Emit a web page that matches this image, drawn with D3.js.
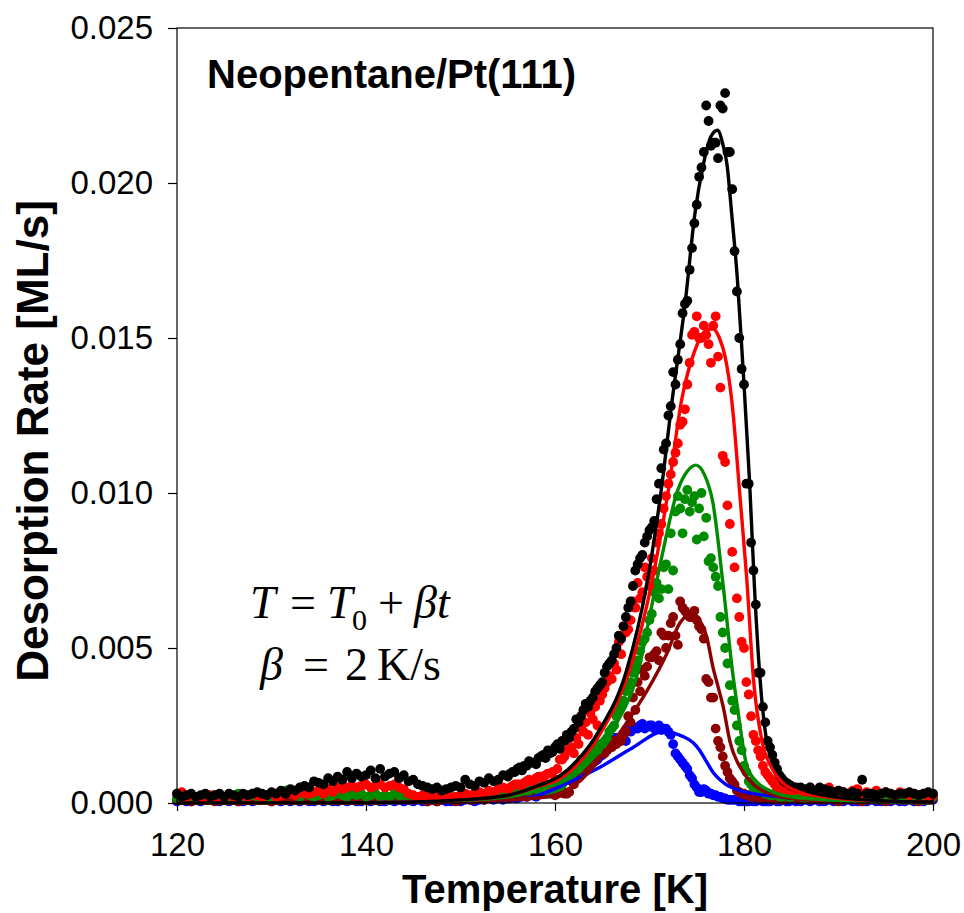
<!DOCTYPE html>
<html>
<head>
<meta charset="utf-8">
<script src="https://cdn.jsdelivr.net/npm/d3@7"></script>
<style>
  body { margin: 0; background: #fff; }
  svg { display: block; }
</style>
</head>
<body>
<script>
// temperature grid of the measured points [K]
const tempK = d3.range(0, 161).map(i => 120 + i * 0.5);
// in-between readings through the peak region [K]
const fineTempK = d3.range(0, 60).map(i => 155.25 + i * 0.5);

// measured desorption rates, in 1e-3 ML/s, one value per temperature step
const blackPts = [
  0.3,0.2,0.25,0.3,0.2,0.25,0.3,0.2,0.25,0.3,0.2,0.3,0.25,0.2,0.3,0.25,0.3,0.35,0.3,0.25,0.35,0.3,0.4,0.3,
  0.45,0.4,0.5,0.55,0.5,0.7,0.65,0.6,0.8,0.7,0.85,0.75,1.0,0.8,0.95,0.85,0.9,1.05,0.8,1.1,0.85,0.95,1.0,0.8,0.9,0.7,0.75,0.6,0.55,0.5,
  0.45,0.5,0.4,0.45,0.5,0.55,0.5,0.75,0.6,0.55,0.7,0.65,0.8,0.7,0.75,0.9,0.85,1.0,
  1.1,1.05,1.2,1.3,1.25,1.5,1.45,1.6,1.8,1.75,2.0,2.1,2.4,2.6,3.0,3.1,3.4,3.7,3.9,4.4,4.6,5.0,
  5.3,6.0,6.5,7.5,7.9,8.4,8.8,9.1,10.3,11.4,12.5,13.9,14.3,15.8,16.2,17.9,19.3,20.5,22.5,21.2,21.3,22.5,22.9,21.0,17.8,15.0,13.5,10.3,
  7.5,4.2,3.1,2.0,1.55,1.1,0.8,0.65,0.55,0.5,
  0.5,0.45,0.5,0.4,0.5,0.45,0.4,0.35,0.4,0.35,0.3,0.35,0.3,0.75,0.3,0.3,0.25,0.3,0.35,0.3,0.25,0.3,0.3,0.35,0.3,0.25,0.3,0.35,0.3
];
const redPts = [
  0.3,0.35,0.2,0.25,0.2,0.15,0.2,0.25,0.2,0.15,0.2,0.25,0.2,0.2,0.25,0.2,0.3,0.25,0.2,0.25,0.3,0.2,0.25,0.3,
  0.3,0.25,0.35,0.3,0.3,0.35,0.4,0.3,0.45,0.35,0.5,0.45,0.5,0.55,0.5,0.55,0.6,0.5,0.55,0.6,0.5,0.55,0.6,0.5,0.45,0.3,0.25,0.2,0.25,0.2,
  0.2,0.25,0.2,0.25,0.2,0.2,0.25,0.3,0.25,0.3,0.35,0.3,0.4,0.35,0.45,0.5,0.45,0.55,
  0.6,0.55,0.7,0.7,0.8,0.85,0.9,0.6,0.75,1.4,1.5,1.7,1.6,1.9,2.3,2.2,2.7,2.5,3.5,3.9,4.0,4.3,
  4.8,5.5,5.9,6.3,6.6,7.6,7.0,7.5,8.7,9.5,10.3,11.0,11.6,12.3,13.5,15.1,15.7,15.0,15.1,14.2,15.7,13.4,11.0,9.0,7.6,6.0,5.0,3.5,
  2.2,1.7,1.2,0.9,0.7,0.5,0.45,0.4,0.35,0.45,
  0.4,0.35,0.5,0.3,0.4,0.35,0.5,0.3,0.4,0.35,0.3,0.4,0.45,0.3,0.35,0.3,0.4,0.3,0.35,0.3,0.25,0.35,0.3,0.25,0.3,0.25,0.3,0.2,0.25
];
const greenPts = [
  0.15,0.1,0.2,0.15,0.1,0.2,0.15,0.2,0.25,0.15,0.2,0.15,0.2,0.3,0.15,0.2,0.25,0.2,0.15,0.2,0.2,0.25,0.35,0.4,
  0.3,0.25,0.2,0.3,0.25,0.2,0.25,0.3,0.2,0.25,0.3,0.25,0.2,0.3,0.25,0.3,0.2,0.25,0.3,0.2,0.25,0.2,0.3,0.25,0.2,0.15,0.2,0.15,0.2,0.15,
  0.15,0.2,0.15,0.2,0.15,0.2,0.15,0.2,0.2,0.25,0.2,0.25,0.3,0.25,0.3,0.35,0.3,0.4,
  0.35,0.45,0.4,0.5,0.45,0.55,0.35,0.5,0.45,0.5,0.7,0.8,1.0,1.1,1.3,1.5,1.6,1.7,1.9,2.1,2.4,2.8,
  3.2,3.6,3.9,4.4,4.9,5.3,5.9,6.8,6.6,7.6,6.9,7.5,9.9,8.7,10.1,9.7,8.5,10.0,9.2,7.9,7.3,6.0,5.0,3.8,3.0,2.0,1.2,0.7,
  0.5,0.4,0.35,0.3,0.25,0.3,0.2,0.25,0.2,0.25,
  0.2,0.15,0.2,0.25,0.2,0.15,0.2,0.15,0.2,0.25,0.2,0.15,0.2,0.15,0.2,0.25,0.2,0.15,0.2,0.2,0.15,0.2,0.25,0.2,0.15,0.2,0.2,0.25,0.2
];
const darkRedPts = [
  0.1,0.15,0.1,0.05,0.1,0.15,0.1,0.1,0.05,0.1,0.15,0.1,0.1,0.05,0.1,0.15,0.1,0.1,0.15,0.1,0.05,0.1,0.15,0.1,
  0.1,0.15,0.1,0.15,0.2,0.15,0.1,0.15,0.2,0.15,0.1,0.15,0.2,0.15,0.1,0.15,0.1,0.15,0.2,0.1,0.15,0.1,0.15,0.1,0.15,0.1,0.1,0.15,0.1,0.05,
  0.1,0.05,0.1,0.15,0.1,0.05,0.1,0.15,0.1,0.1,0.15,0.1,0.15,0.2,0.15,0.2,0.15,0.2,
  0.2,0.25,0.2,0.3,0.25,0.3,0.35,0.3,0.25,0.35,0.3,0.35,0.6,0.8,1.0,1.2,1.3,1.5,1.6,1.7,1.8,1.9,
  2.0,2.3,2.6,3.0,3.6,4.1,4.7,4.8,4.6,5.4,5.4,6.0,5.1,6.3,6.1,6.0,5.9,5.6,4.0,3.4,2.4,1.8,1.2,0.8,0.6,0.35,0.3,0.25,
  0.2,0.25,0.2,0.15,0.2,0.15,0.1,0.15,0.2,0.15,
  0.1,0.15,0.1,0.15,0.1,0.1,0.15,0.1,0.05,0.1,0.15,0.1,0.1,0.05,0.1,0.15,0.1,0.1,0.05,0.1,0.15,0.1,0.1,0.15,0.1,0.05,0.1,0.1,0.15
];
const bluePts = [
  0.05,0.1,0.05,0.05,0.1,0.05,0.1,0.15,0.1,0.05,0.1,0.05,0.1,0.05,0.05,0.1,0.05,0.1,0.15,0.1,0.05,0.1,0.05,0.1,
  0.05,0.1,0.05,0.1,0.05,0.05,0.1,0.05,0.1,0.05,0.05,0.1,0.05,0.1,0.05,0.05,0.1,0.05,0.1,0.05,0.05,0.1,0.05,0.1,0.05,0.1,0.05,0.1,0.05,0.05,
  0.1,0.05,0.1,0.05,0.05,0.1,0.05,0.1,0.1,0.05,0.1,0.1,0.15,0.1,0.15,0.1,0.15,0.2,
  0.15,0.2,0.2,0.25,0.2,0.3,0.3,0.45,0.5,0.55,0.7,0.75,0.85,1.0,1.05,1.2,1.3,1.4,1.55,1.7,1.9,2.1,
  2.05,2.0,2.3,2.4,2.5,2.4,2.5,2.4,2.5,2.4,2.3,1.9,1.5,1.3,1.1,0.8,0.5,0.35,0.4,0.3,0.25,0.2,0.15,0.1,0.1,0.05,0.1,0.05,
  0.05,0.1,0.05,0.05,0.1,0.05,0.1,0.05,0.1,0.05,
  0.05,0.1,0.05,0.1,0.05,0.05,0.1,0.05,0.1,0.05,0.1,0.05,0.05,0.1,0.05,0.1,0.05,0.05,0.1,0.05,0.1,0.05,0.05,0.1,0.05,0.1,0.05,0.1,0.1
];

// in-between readings, 1e-3 ML/s, at fineTempK
const blackFine = [
  0.95,1.0,1.15,1.2,1.35,1.3,1.45,1.55,1.7,1.65,
  1.9,2.0,2.2,2.3,2.7,2.8,3.2,3.3,3.6,3.8,
  4.2,4.5,4.8,5.4,5.7,6.3,7.0,7.7,8.0,8.6,
  8.9,9.8,10.8,11.6,12.8,13.5,14.8,16.1,17.2,18.7,
  20.2,21.0,22.0,21.3,20.8,22.4,21.0,19.8,16.5,14.0,
  10.3,8.4,6.4,4.2,2.6,1.8,1.3,0.9,0.7,0.6
];
const redFine = [
  0.5,0.6,0.6,0.65,0.75,0.7,0.85,0.8,0.95,1.0,
  1.1,1.4,1.7,1.8,2.1,2.4,2.6,2.9,3.1,3.3,
  3.7,4.1,4.5,5.2,5.7,5.6,6.5,7.1,6.8,7.3,
  7.9,8.4,9.0,9.9,10.6,11.3,12.2,12.7,14.2,15.2,
  15.0,15.4,14.8,15.4,14.4,11.2,9.6,8.1,6.6,5.2,
  3.9,2.8,2.0,1.5,1.0,0.8,0.6,0.5,0.4,0.4
];
const greenFine = [
  0.3,0.35,0.4,0.45,0.4,0.5,0.45,0.4,0.3,0.4,
  0.55,0.6,0.8,0.9,1.2,1.4,1.5,1.55,1.8,1.9,
  2.0,2.3,2.5,3.0,3.3,3.8,4.2,4.6,5.2,5.5,
  6.1,7.1,6.9,7.7,8.7,9.4,9.5,9.8,9.4,9.9,
  9.5,8.6,7.8,7.6,7.0,5.5,4.5,3.3,2.5,1.7,
  1.0,0.6,0.45,0.4,0.3,0.25,0.3,0.2,0.25,0.2
];
const darkRedFine = [
  0.2,0.25,0.3,0.25,0.3,0.3,0.35,0.3,0.35,0.3,
  0.3,0.4,0.3,0.7,0.9,1.1,1.2,1.4,1.4,1.6,
  1.6,1.8,2.0,2.0,2.2,2.8,3.4,3.9,4.3,4.4,
  4.7,4.9,5.5,5.0,5.8,5.4,6.5,6.2,6.0,6.2,
  5.7,5.3,3.9,3.4,2.0,1.5,1.0,0.7,0.4,0.3,
  0.25,0.2,0.2,0.15,0.2,0.15,0.1,0.15,0.1,0.15
];
const blueFine = [
  0.15,0.15,0.2,0.25,0.25,0.3,0.3,0.35,0.4,0.5,
  0.6,0.65,0.75,0.9,0.95,1.1,1.15,1.3,1.35,1.5,
  1.7,1.9,2.1,2.0,2.2,2.4,2.45,2.4,2.55,2.45,
  2.5,2.45,2.35,2.4,2.2,1.6,1.4,1.2,0.9,0.6,
  0.35,0.45,0.3,0.25,0.2,0.15,0.1,0.1,0.1,0.05,
  0.05,0.1,0.05,0.1,0.05,0.05,0.1,0.05,0.1,0.05
];

// fitted curves (temperature nodes [K] and rates in 1e-3 ML/s)
const blackFitT = [120,140,150,155,157.7,161.3,164.8,167.5,169.8,171.2,172.4,173.8,174.8,175.7,176.5,177.2,177.8,178.2,178.7,179.3,179.9,180.6,181.1,181.7,182.4,183.3,184.5,186,190,195,200];
const blackFitY = [0,0.01,0.1,0.25,0.5,1.06,2.4,4.2,7.2,10.0,13.0,16.2,19.0,20.6,21.5,21.7,21.2,20.6,19.0,16.9,14.0,10.3,7.0,4.0,2.0,1.15,0.74,0.45,0.18,0.07,0.03];
const redFitT = [120,140,150,155,157.9,161.5,165.1,167.8,170.3,172.0,173.4,174.8,175.8,176.7,177.4,178.0,178.7,179.6,180.3,181.0,181.9,183,184.1,186,190,195,200];
const redFitY = [0,0.01,0.1,0.25,0.5,1.0,2.4,4.2,7.2,10.1,13.0,14.6,15.2,15.3,15.0,14.4,13.0,9.8,7.2,4.0,2.0,1.1,0.65,0.35,0.15,0.06,0.03];
const greenFitT = [120,140,150,155,158.5,162.5,166.2,169.0,170.0,171.2,173.0,174.0,174.9,175.8,176.7,177.8,178.8,179.3,180.3,181.3,182.7,185,190,195,200];
const greenFitY = [0,0.01,0.08,0.2,0.45,1.0,2.4,4.5,6.0,7.8,10.1,10.7,10.9,10.6,9.7,7.0,4.2,3.1,1.2,0.7,0.4,0.2,0.08,0.03,0.01];
const darkRedFitT = [120,140,150,155,159.2,162.6,165.5,167.6,169.7,171.8,173.2,174.0,174.6,175.3,176.1,176.7,177.3,177.8,178.5,179.9,181,182.7,185,190,200];
const darkRedFitY = [0,0.01,0.05,0.1,0.2,0.7,1.7,2.6,3.6,4.8,5.8,6.05,6.1,5.9,5.3,4.4,3.7,3.1,2.0,1.0,0.6,0.3,0.15,0.05,0.01];
const blueFitT = [120,140,150,155,157.7,161.3,164.8,168.3,171.4,173.5,174.6,175.3,176.0,176.7,178,179.6,181.5,183.8,187,192,200];
const blueFitY = [0,0.01,0.05,0.1,0.2,0.64,1.16,1.8,2.3,2.15,1.95,1.7,1.35,1.0,0.62,0.4,0.28,0.2,0.12,0.05,0.02];

const xTicks = [120, 140, 160, 180, 200];
const yTicks = [0, 0.005, 0.010, 0.015, 0.020, 0.025];

const series = [
  { color: "#0000ff", pts: bluePts, fine: blueFine, fitT: blueFitT, fitY: blueFitY },
  { color: "#8b0000", pts: darkRedPts, fine: darkRedFine, fitT: darkRedFitT, fitY: darkRedFitY },
  { color: "#008c00", pts: greenPts, fine: greenFine, fitT: greenFitT, fitY: greenFitY },
  { color: "#ff0000", pts: redPts, fine: redFine, fitT: redFitT, fitY: redFitY },
  { color: "#000000", pts: blackPts, fine: blackFine, fitT: blackFitT, fitY: blackFitY }
];

const W = 964, H = 913;
const margin = { top: 28, right: 31, bottom: 110, left: 177 };
const width = W - margin.left - margin.right;
const height = H - margin.top - margin.bottom;

const svg = d3.select("body").append("svg")
  .attr("width", W)
  .attr("height", H);

const g = svg.append("g")
  .attr("transform", `translate(${margin.left},${margin.top})`);

const x = d3.scaleLinear().domain([120, 200]).range([0, width]);
const y = d3.scaleLinear().domain([0, 0.025]).range([height, 0]);

// points
series.forEach(s => {
  const pts = s.pts.map((v, i) => [tempK[i], v])
    .concat(s.fine.map((v, i) => [fineTempK[i], v]));
  g.append("g")
    .selectAll("circle")
    .data(pts)
    .enter()
    .append("circle")
    .attr("cx", d => x(d[0]))
    .attr("cy", d => y(d[1] / 1000))
    .attr("r", 4.9)
    .attr("fill", s.color);
});

// fit lines
const line = d3.line()
  .x(d => x(d[0]))
  .y(d => y(d[1] / 1000))
  .curve(d3.curveMonotoneX);

series.forEach(s => {
  g.append("path")
    .datum(s.fitT.map((t, i) => [t, s.fitY[i]]))
    .attr("fill", "none")
    .attr("stroke", s.color)
    .attr("stroke-width", 3.4)
    .attr("d", line);
});

// frame
g.append("rect")
  .attr("width", width)
  .attr("height", height)
  .attr("fill", "none")
  .attr("stroke", "#000")
  .attr("stroke-width", 1.2);

const xAxis = g.append("g")
  .attr("transform", `translate(0,${height})`)
  .call(d3.axisBottom(x).tickValues(xTicks).tickSize(8).tickPadding(22).tickFormat(d3.format("d")));

const yAxis = g.append("g")
  .call(d3.axisLeft(y).tickValues(yTicks).tickSize(9).tickPadding(15).tickFormat(d3.format(".3f")));

[xAxis, yAxis].forEach(a => {
  a.select(".domain").remove();
  a.selectAll("line").attr("stroke", "#000").attr("stroke-width", 1.2);
  a.selectAll("text")
    .attr("fill", "#000")
    .style("font-family", "'Liberation Sans', Arial, sans-serif")
    .style("font-size", "33px");
});

// axis titles
svg.append("text")
  .attr("x", margin.left + width / 2)
  .attr("y", 903)
  .attr("text-anchor", "middle")
  .style("font-family", "'Liberation Sans', Arial, sans-serif")
  .style("font-weight", "bold")
  .style("font-size", "40px")
  .text("Temperature [K]");

svg.append("text")
  .attr("transform", "translate(48,441) rotate(-90)")
  .attr("text-anchor", "middle")
  .style("font-family", "'Liberation Sans', Arial, sans-serif")
  .style("font-weight", "bold")
  .style("font-size", "44px")
  .text("Desorption Rate [ML/s]");

// panel label
svg.append("text")
  .attr("x", 207)
  .attr("y", 88)
  .style("font-family", "'Liberation Sans', Arial, sans-serif")
  .style("font-weight", "bold")
  .style("font-size", "40px")
  .text("Neopentane/Pt(111)");

// heating ramp annotation
const serif = "'Liberation Serif', 'Times New Roman', serif";
const eq1 = svg.append("text")
  .attr("y", 618)
  .style("font-family", serif)
  .style("font-size", "46px");
eq1.append("tspan").attr("x", 250).style("font-style", "italic").text("T");
eq1.append("tspan").attr("x", 290).text("=");
eq1.append("tspan").attr("x", 327).style("font-style", "italic").text("T");
eq1.append("tspan").attr("x", 352).attr("dy", 12).style("font-size", "30px").text("0");
eq1.append("tspan").attr("x", 378).attr("dy", -12).text("+");
eq1.append("tspan").attr("x", 414).style("font-style", "italic").text("βt");

const eq2 = svg.append("text")
  .attr("y", 680)
  .style("font-family", serif)
  .style("font-size", "46px");
eq2.append("tspan").attr("x", 260).style("font-style", "italic").text("β");
eq2.append("tspan").attr("x", 303).text("=");
eq2.append("tspan").attr("x", 345).text("2");
eq2.append("tspan").attr("x", 377).text("K/s");
</script>
</body>
</html>
